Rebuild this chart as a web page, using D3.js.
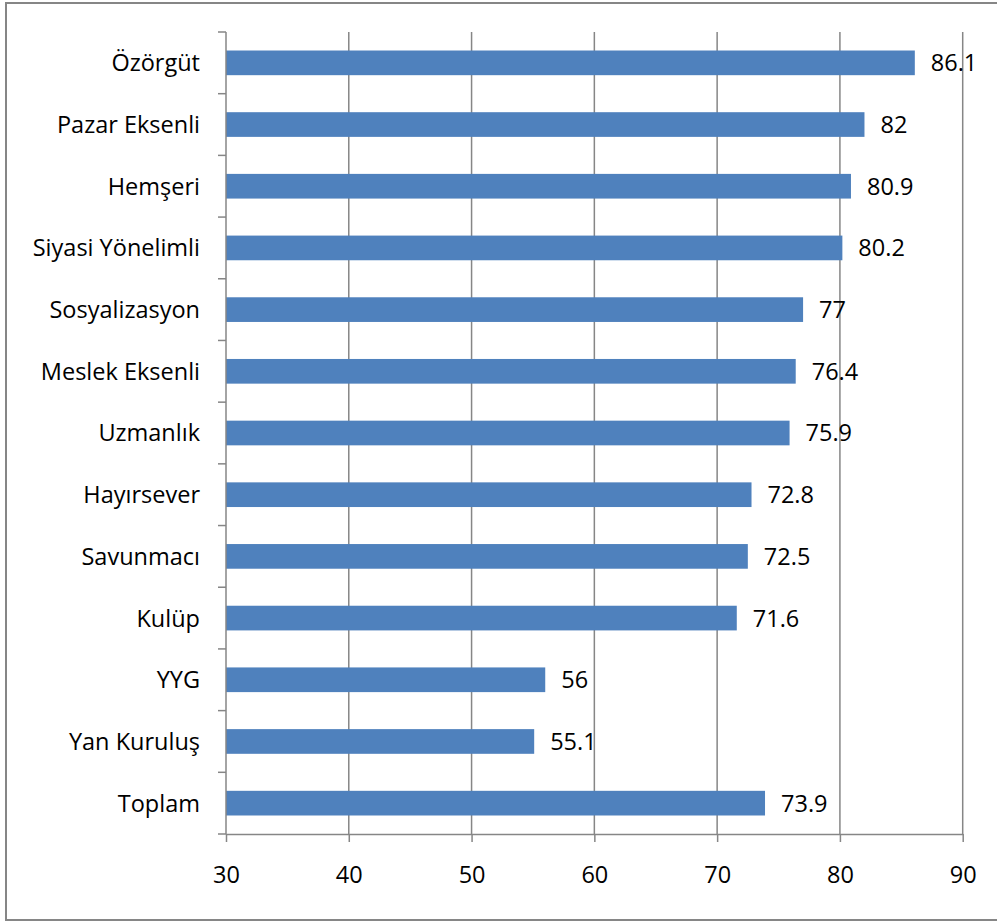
<!DOCTYPE html>
<html>
<head>
<meta charset="utf-8">
<script src="https://cdn.jsdelivr.net/npm/d3@7"></script>
<style>
  body { margin: 0; background: #fff; }
  svg text { font-family: "Open Sans", Carlito, Calibri, sans-serif; fill: #000; }
</style>
</head>
<body>
<svg id="chart" width="997" height="922"></svg>
<script>
// group names, top to bottom
const categories = [
  "Özörgüt", "Pazar Eksenli", "Hemşeri", "Siyasi Yönelimli", "Sosyalizasyon",
  "Meslek Eksenli", "Uzmanlık", "Hayırsever", "Savunmacı", "Kulüp",
  "YYG", "Yan Kuruluş", "Toplam"
];
const values = [86.1, 82, 80.9, 80.2, 77, 76.4, 75.9, 72.8, 72.5, 71.6, 56, 55.1, 73.9];
const valueLabels = ["86.1", "82", "80.9", "80.2", "77", "76.4", "75.9", "72.8", "72.5", "71.6", "56", "55.1", "73.9"];
const xTicks = [30, 40, 50, 60, 70, 80, 90];

const gridColor = "#868686";
const barColor = "#4f81bd";
const fontSize = 23.5;
const fontFamily = "'Open Sans', Carlito, Calibri, sans-serif";

const svg = d3.select("#chart");

// outer frame (right side runs past the picture)
svg.append("rect")
  .attr("x", 6).attr("y", 3)
  .attr("width", 1000).attr("height", 917)
  .attr("fill", "none")
  .attr("stroke", gridColor)
  .attr("stroke-width", 2);

const plotLeft = 226, plotRight = 962.7, plotTop = 32, plotBottom = 834;

const x = d3.scaleLinear().domain([30, 90]).range([plotLeft, plotRight]);
const y = d3.scaleBand().domain(categories).range([plotTop, plotBottom])
  .paddingInner(0.6).paddingOuter(0.3);

// vertical gridlines
svg.append("g")
  .selectAll("line")
  .data(xTicks.slice(1))
  .join("line")
  .attr("x1", d => x(d)).attr("x2", d => x(d))
  .attr("y1", plotTop).attr("y2", plotBottom)
  .attr("stroke", gridColor)
  .attr("stroke-width", 1.5);

// bars
svg.append("g")
  .selectAll("rect")
  .data(categories)
  .join("rect")
  .attr("x", x(30))
  .attr("y", d => y(d))
  .attr("width", (d, i) => x(values[i]) - x(30))
  .attr("height", y.bandwidth())
  .attr("fill", barColor);

// value labels
svg.append("g")
  .selectAll("text")
  .data(categories)
  .join("text")
  .attr("x", (d, i) => x(values[i]) + 16)
  .attr("y", d => y(d) + y.bandwidth() / 2)
  .attr("dy", "0.36em")
  .attr("font-size", fontSize)
  .text((d, i) => valueLabels[i]);

// x axis
const xAxis = svg.append("g")
  .attr("transform", `translate(0,${plotBottom})`)
  .call(d3.axisBottom(x).tickValues(xTicks).tickSize(8).tickPadding(24).tickSizeOuter(0));
xAxis.select(".domain").attr("stroke", gridColor).attr("stroke-width", 1.5);
xAxis.selectAll(".tick line").attr("stroke", gridColor).attr("stroke-width", 1.5);
xAxis.selectAll(".tick text")
  .attr("font-size", fontSize)
  .style("font-family", fontFamily)
  .attr("fill", "#000");

// y axis: line with ticks between categories
const yg = svg.append("g");
yg.append("line")
  .attr("x1", plotLeft).attr("x2", plotLeft)
  .attr("y1", plotTop).attr("y2", plotBottom)
  .attr("stroke", gridColor).attr("stroke-width", 1.5);
const step = y.step();
const boundaries = d3.range(categories.length + 1).map(i => plotTop + i * step);
yg.selectAll("line.tk")
  .data(boundaries)
  .join("line")
  .attr("class", "tk")
  .attr("x1", plotLeft - 8).attr("x2", plotLeft)
  .attr("y1", d => d).attr("y2", d => d)
  .attr("stroke", gridColor).attr("stroke-width", 1.5);

yg.selectAll("text")
  .data(categories)
  .join("text")
  .attr("x", 200)
  .attr("y", d => y(d) + y.bandwidth() / 2)
  .attr("dy", "0.36em")
  .attr("text-anchor", "end")
  .attr("font-size", fontSize)
  .text(d => d);
</script>
</body>
</html>
